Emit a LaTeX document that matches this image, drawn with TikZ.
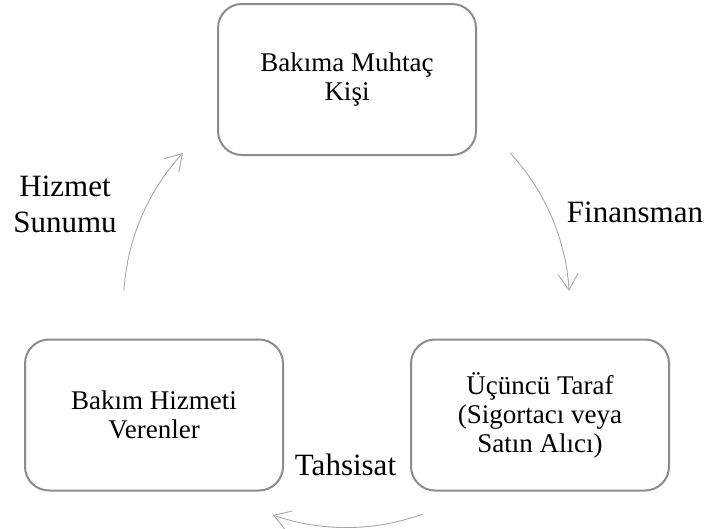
\documentclass[tikz,border=0pt]{standalone}
\usepackage{fontspec}
\setmainfont{Liberation Serif}
\usetikzlibrary{arrows.meta}
\definecolor{boxline}{RGB}{140,140,140}
\definecolor{flowline}{RGB}{168,168,168}
\tikzset{
  stage/.style={draw=boxline, line width=2pt, rounded corners=24pt, fill=white,
    minimum width=258pt, minimum height=151pt, align=center, inner sep=0pt,
    font=\fontsize{27}{29}\selectfont},
  flowlabel/.style={align=center, inner sep=0pt, font=\fontsize{31}{36}\selectfont},
  flow/.style={draw=flowline, line width=0.9pt,
    -{Straight Barb[length=16pt,width=20pt,line width=0.9pt]}}
}
\begin{document}
\begin{tikzpicture}[x=1pt,y=-1pt]
  \useasboundingbox (0,0) rectangle (708,528);

  % the three parties of the care cycle
  \node[stage] (person)  at (347,79.5) {Bakıma Muhtaç\\Kişi};
  \node[stage] (insurer) at (540,415)  {Üçüncü Taraf\\(Sigortacı veya\\Satın Alıcı)};
  \node[stage] (provider) at (154,415) {Bakım Hizmeti\\Verenler};

  % flow arcs around a common hub
  \coordinate (hub) at (346.5,304.5);
  \path (hub) ++(-176.5:223) coordinate (serviceStart);
  \path (hub) ++(-42.8:223)  coordinate (financeStart);
  \path (hub) ++(69.9:223)   coordinate (allocStart);

  \draw[flow] (serviceStart) arc[start angle=-176.5, end angle=-137.2, radius=223];
  \draw[flow] (financeStart) arc[start angle=-42.8, end angle=-3.5, radius=223];
  \draw[flow] (allocStart)   arc[start angle=69.9, end angle=109.3, radius=223];

  % flow labels
  \node[flowlabel] (serviceLabel) at (65,204.8) {Hizmet\\Sunumu};
  \node[flowlabel, anchor=base] (financeLabel) at (635,222) {Finansman};
  \node[flowlabel, anchor=base] (allocLabel) at (345.5,475) {Tahsisat};
\end{tikzpicture}
\end{document}
